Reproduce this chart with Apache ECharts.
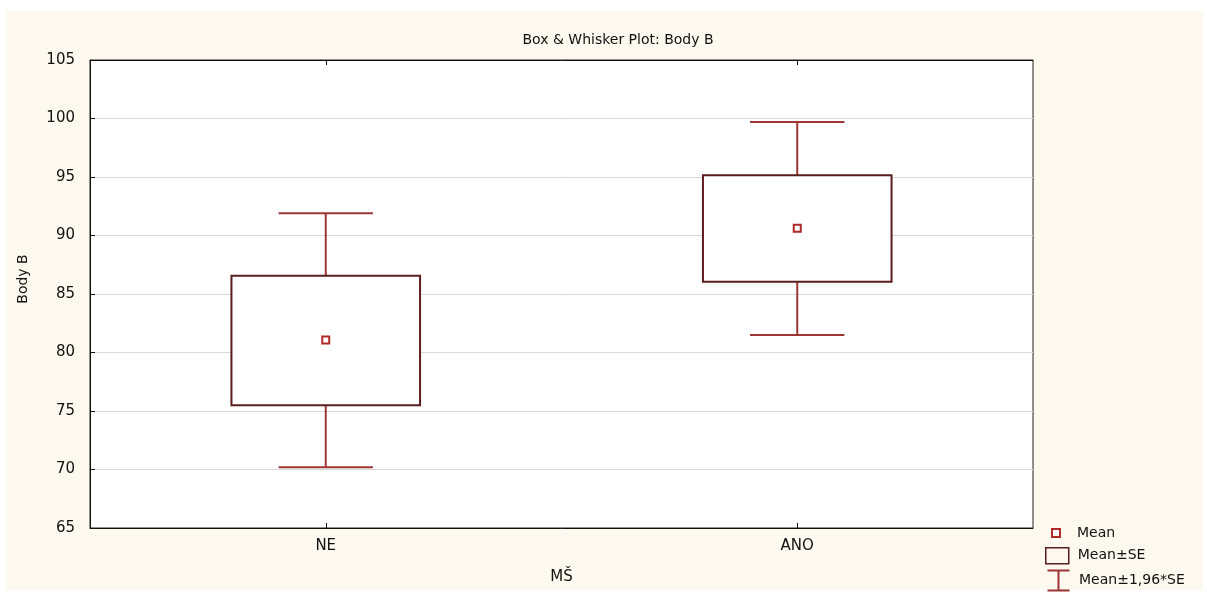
<!DOCTYPE html>
<html>
<head>
<meta charset="utf-8">
<script src="https://cdn.jsdelivr.net/npm/echarts@6/dist/echarts.min.js"></script>
<style>
html,body{margin:0;padding:0;background:#ffffff;}
#chart{width:1207px;height:594px;}
</style>
</head>
<body>
<div id="chart"></div>
<script>
// ---- data ----
const categories = ['NE', 'ANO'];
const meanValues = [81.07, 90.61];
const seLow = [75.5, 86.05];
const seHigh = [86.55, 95.15];
const ciLow = [70.2, 81.5];
const ciHigh = [91.9, 99.7];
const yTicks = [65, 70, 75, 80, 85, 90, 95, 100, 105];

const FONT = 'DejaVu Sans';
const WHISKER = '#9e3434';
const BOXC = '#5a1c1c';
const MEANC = '#b02a2a';

const chart = echarts.init(document.getElementById('chart'), null, {renderer: 'canvas'});

const whiskerData = categories.map((c, i) => [i, ciLow[i], ciHigh[i]]);
const boxData = categories.map((c, i) => [i, seLow[i], seHigh[i]]);
const meanData = categories.map((c, i) => [i, meanValues[i]]);

const option = {
  backgroundColor: 'transparent',
  animation: false,
  graphic: [{
    type: 'rect', z: -10, silent: true,
    shape: {x: 6, y: 11, width: 1197, height: 579},
    style: {fill: '#fdf9ee'}
  }],
  title: {
    text: 'Box & Whisker Plot: Body B',
    left: 613, top: 28, textAlign: 'center',
    textStyle: {fontFamily: FONT, fontSize: 14, fontWeight: 'normal', color: '#111'}
  },
  grid: {
    left: 90, right: 174, top: 60, bottom: 66,
    show: true, backgroundColor: '#ffffff', borderColor: '#222', borderWidth: 1
  },
  xAxis: [{
    type: 'category', data: categories, position: 'bottom',
    name: 'MŠ', nameLocation: 'middle', nameGap: 42,
    nameTextStyle: {fontFamily: FONT, fontSize: 15, color: '#111'},
    axisLine: {lineStyle: {color: '#111', width: 1}},
    axisTick: {show: true, inside: true, alignWithLabel: true, length: 5, lineStyle: {color: '#111'}},
    axisLabel: {fontFamily: FONT, fontSize: 15, color: '#111', margin: 11},
    splitLine: {show: false}
  }, {
    type: 'category', data: categories, position: 'top',
    axisLine: {lineStyle: {color: '#111'}},
    axisTick: {show: true, inside: true, alignWithLabel: true, length: 5, lineStyle: {color: '#111'}},
    axisLabel: {show: false}, splitLine: {show: false}
  }],
  yAxis: [{
    type: 'value', min: yTicks[0], max: yTicks[yTicks.length - 1], interval: 5,
    name: 'Body B', nameLocation: 'middle', nameGap: 60, nameRotate: 90,
    nameTextStyle: {fontFamily: FONT, fontSize: 14, color: '#111', padding: [0, 0, 0, 30]},
    axisLine: {show: true, lineStyle: {color: '#111', width: 1}},
    axisTick: {show: true, inside: true, length: 5, lineStyle: {color: '#111'}},
    axisLabel: {fontFamily: FONT, fontSize: 15, color: '#111', margin: 15},
    splitLine: {show: true, lineStyle: {color: '#d9d9d9', width: 1}}
  }],
  legend: [{
    left: 1051, top: 525, padding: 0, orient: 'vertical',
    itemWidth: 8, itemHeight: 8,
    textStyle: {fontFamily: FONT, fontSize: 14, color: '#111', lineHeight: 16, padding: [0, 0, 0, 12]},
    data: [{name: 'Mean', icon: 'rect', itemStyle: {color: '#ffffff', borderColor: MEANC, borderWidth: 2}}]
  }, {
    left: 1045, top: 547, padding: 0, orient: 'vertical',
    itemWidth: 23, itemHeight: 16,
    textStyle: {fontFamily: FONT, fontSize: 14, color: '#111', lineHeight: 16, padding: [0, 0, 0, 4]},
    data: [{name: 'Mean±SE', icon: 'rect', itemStyle: {color: 'transparent', borderColor: BOXC, borderWidth: 1.5}}]
  }, {
    left: 1045, top: 568, padding: 0, orient: 'vertical',
    itemWidth: 23, itemHeight: 20,
    textStyle: {fontFamily: FONT, fontSize: 14, color: '#111', lineHeight: 20, padding: [0, 0, 0, 4]},
    data: [{name: 'Mean±1,96*SE', icon: 'path://M0,0L22,0M11,0L11,20M0,20L22,20', itemStyle: {color: 'none', borderColor: WHISKER, borderWidth: 2}}]
  }],
  series: [{
    name: 'Mean±1,96*SE', type: 'custom', xAxisIndex: 0, yAxisIndex: 0, z: 2,
    itemStyle: {color: WHISKER},
    data: whiskerData,
    renderItem: function (params, api) {
      const x = api.value(0);
      const top = api.coord([x, api.value(2)]);
      const bot = api.coord([x, api.value(1)]);
      const band = api.size([1, 0])[0];
      const hw = band * 0.1;
      const st = {stroke: WHISKER, lineWidth: 2, fill: null};
      return {type: 'group', children: [
        {type: 'line', shape: {x1: top[0], y1: top[1], x2: bot[0], y2: bot[1]}, style: st},
        {type: 'line', shape: {x1: top[0] - hw, y1: top[1], x2: top[0] + hw, y2: top[1]}, style: st},
        {type: 'line', shape: {x1: bot[0] - hw, y1: bot[1], x2: bot[0] + hw, y2: bot[1]}, style: st}
      ]};
    }
  }, {
    name: 'Mean±SE', type: 'custom', xAxisIndex: 0, yAxisIndex: 0, z: 3,
    itemStyle: {color: BOXC},
    data: boxData,
    renderItem: function (params, api) {
      const x = api.value(0);
      const top = api.coord([x, api.value(2)]);
      const bot = api.coord([x, api.value(1)]);
      const band = api.size([1, 0])[0];
      const hw = band * 0.2;
      return {type: 'rect',
        shape: {x: top[0] - hw, y: top[1], width: hw * 2, height: bot[1] - top[1]},
        style: {fill: '#ffffff', stroke: BOXC, lineWidth: 2}};
    }
  }, {
    name: 'Mean', type: 'custom', xAxisIndex: 0, yAxisIndex: 0, z: 4,
    itemStyle: {color: MEANC},
    data: meanData,
    renderItem: function (params, api) {
      const p = api.coord([api.value(0), api.value(1)]);
      return {type: 'rect',
        shape: {x: p[0] - 3.5, y: p[1] - 3.5, width: 7, height: 7},
        style: {fill: '#ffffff', stroke: MEANC, lineWidth: 2}};
    }
  }]
};
chart.setOption(option);
</script>
</body>
</html>
